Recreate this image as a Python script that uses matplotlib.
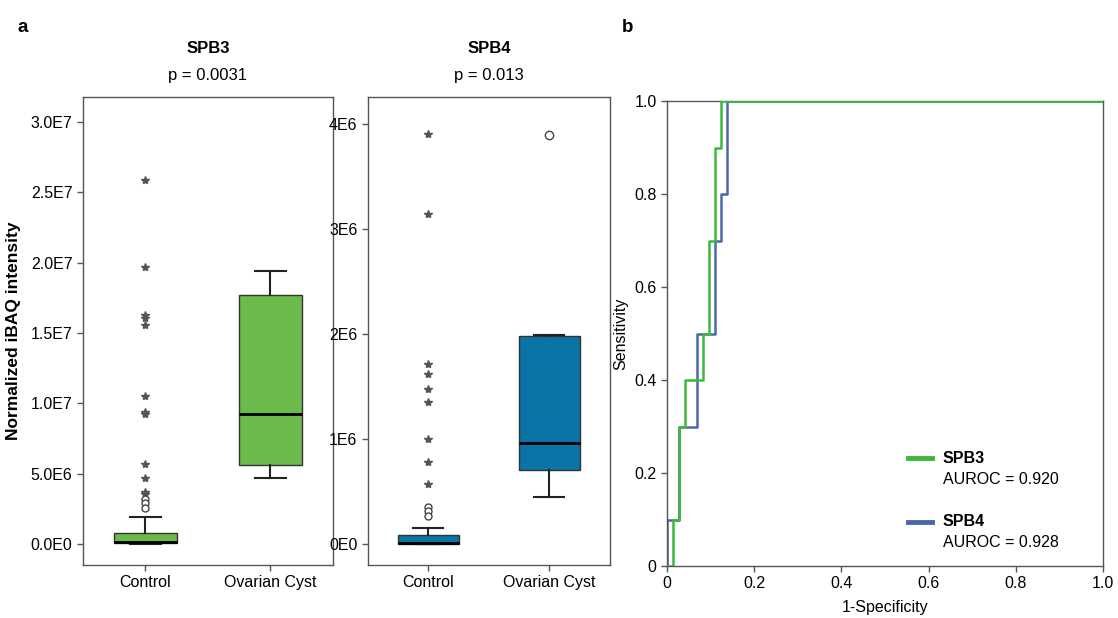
import matplotlib.pyplot as plt
from matplotlib.lines import Line2D

plt.rcParams["font.family"] = ["Liberation Sans", "DejaVu Sans"]

GROUPS = ["Control", "Ovarian Cyst"]

# box statistics (whislo, q1, med, q3, whishi)
SPB3_BOX = [
    [0.0, 0.05e6, 0.17e6, 0.80e6, 1.94e6],
    [4.69e6, 5.59e6, 9.28e6, 17.7e6, 19.4e6],
]
SPB3_STARS = [25.9e6, 19.7e6, 16.3e6, 16.1e6, 15.6e6, 10.5e6, 9.4e6, 9.25e6,
              5.66e6, 4.69e6, 3.72e6, 3.58e6]
SPB3_CIRCLES = [3.2e6, 2.9e6, 2.55e6]

SPB4_BOX = [
    [0.0, 0.0, 0.005e6, 0.09e6, 0.15e6],
    [0.45e6, 0.705e6, 0.96e6, 1.98e6, 1.99e6],
]
SPB4_STARS = [3.91e6, 3.14e6, 1.71e6, 1.62e6, 1.48e6, 1.35e6, 1.0e6, 0.78e6, 0.57e6]
SPB4_CIRCLES = [0.35e6, 0.31e6, 0.27e6]
SPB4_CYST_CIRCLES = [3.9e6]

# ROC steps
SPB3_FPR = [0.0, 0.014, 0.027, 0.041, 0.082, 0.096, 0.110, 0.123, 1.0]
SPB3_TPR = [0.0, 0.1, 0.3, 0.4, 0.5, 0.7, 0.9, 1.0, 1.0]
SPB4_FPR = [0.0, 0.0, 0.027, 0.068, 0.110, 0.123, 0.137, 1.0]
SPB4_TPR = [0.0, 0.1, 0.3, 0.5, 0.7, 0.8, 1.0, 1.0]
AUROC = {"SPB3": 0.920, "SPB4": 0.928}

GREEN_BOX = "#6cba4a"
BLUE_BOX = "#0a74a6"
GREEN_LINE = "#3cb83c"
BLUE_LINE = "#4a68a8"
FRAME = "#555555"
FS = 11.5


def style_frame(ax):
    for s in ax.spines.values():
        s.set_color(FRAME)
        s.set_linewidth(1.0)
    ax.tick_params(direction="out", length=4, width=1, color=FRAME, labelsize=FS)


def box_panel(ax, box, stars, circles, color, ylim, yticks, ylabels, extra=None):
    stats = []
    for lo, q1, med, q3, hi in box:
        stats.append({"whislo": lo, "q1": q1, "med": med, "q3": q3, "whishi": hi, "fliers": []})
    ax.bxp(
        stats,
        positions=[1, 2],
        widths=0.5,
        patch_artist=True,
        showfliers=False,
        boxprops={"facecolor": color, "edgecolor": "#333333", "linewidth": 1.0},
        medianprops={"color": "black", "linewidth": 2.0},
        whiskerprops={"color": "#222222", "linewidth": 1.5},
        capprops={"color": "#222222", "linewidth": 1.5},
        capwidths=0.25,
    )
    ax.plot([1] * len(stars), stars, ls="none", marker="*", ms=6,
            color="#555555", mec="#555555")
    ax.plot([1] * len(circles), circles, ls="none", marker="o", ms=5,
            mfc="white", mec="#444444", mew=1.0)
    if extra:
        ax.plot([2] * len(extra), extra, ls="none", marker="o", ms=6,
                mfc="white", mec="#444444", mew=1.0)
    ax.set_xlim(0.5, 2.5)
    ax.set_ylim(*ylim)
    ax.set_xticks([1, 2])
    ax.set_xticklabels(GROUPS)
    ax.set_yticks(yticks)
    ax.set_yticklabels(ylabels)
    style_frame(ax)


def titles(ax, name, pval):
    ax.text(0.5, 1.103, name, transform=ax.transAxes, ha="center", va="center",
            fontsize=FS + 0.5, fontweight="bold")
    ax.text(0.5, 1.047, pval, transform=ax.transAxes, ha="center", va="center",
            fontsize=FS + 0.5)


fig = plt.figure(figsize=(11.18, 6.18), dpi=100)

ax1 = fig.add_axes([0.0742, 0.0858, 0.2236, 0.757])
box_panel(ax1, SPB3_BOX, SPB3_STARS, SPB3_CIRCLES, GREEN_BOX,
          (-1.49e6, 3.178e7),
          [0, 5e6, 1e7, 1.5e7, 2e7, 2.5e7, 3e7],
          ["0.0E0", "5.0E6", "1.0E7", "1.5E7", "2.0E7", "2.5E7", "3.0E7"])
ax1.set_ylabel("Normalized iBAQ intensity", fontsize=FS + 1, fontweight="bold", labelpad=7)
titles(ax1, "SPB3", "p = 0.0031")

ax2 = fig.add_axes([0.329, 0.0858, 0.2165, 0.757])
box_panel(ax2, SPB4_BOX, SPB4_STARS, SPB4_CIRCLES, BLUE_BOX,
          (-0.2e6, 4.257e6),
          [0, 1e6, 2e6, 3e6, 4e6],
          ["0E0", "1E6", "2E6", "3E6", "4E6"],
          extra=SPB4_CYST_CIRCLES)
titles(ax2, "SPB4", "p = 0.013")

ax3 = fig.add_axes([0.5966, 0.0841, 0.39, 0.752])
ax3.step(SPB3_FPR, SPB3_TPR, where="post", color=GREEN_LINE, lw=1.8, zorder=3)
ax3.step(SPB4_FPR, SPB4_TPR, where="post", color=BLUE_LINE, lw=1.8, zorder=2)
ax3.set_xlim(0, 1)
ax3.set_ylim(0, 1)
ticks = [0, 0.2, 0.4, 0.6, 0.8, 1.0]
labs = ["0", "0.2", "0.4", "0.6", "0.8", "1.0"]
ax3.set_xticks(ticks)
ax3.set_xticklabels(labs)
ax3.set_yticks(ticks)
ax3.set_yticklabels(labs)
style_frame(ax3)
ax3.set_xlabel("1-Specificity", fontsize=FS, labelpad=6)
ax3.set_ylabel("Sensitivity", fontsize=FS, labelpad=4)

# legend drawn by hand, as in the figure
for (name, color, y0) in [("SPB3", GREEN_LINE, 0.232), ("SPB4", BLUE_LINE, 0.095)]:
    ax3.add_line(Line2D([0.552, 0.608], [y0, y0], color=color, lw=3.5,
                        transform=ax3.transAxes, clip_on=False))
    ax3.text(0.632, y0, name, transform=ax3.transAxes, va="center",
             fontsize=FS, fontweight="bold")
    ax3.text(0.632, y0 - 0.045, f"AUROC = {AUROC[name]:.3f}", transform=ax3.transAxes,
             va="center", fontsize=FS)

fig.text(0.016, 0.955, "a", fontsize=FS + 2, fontweight="bold", va="center")
fig.text(0.556, 0.955, "b", fontsize=FS + 2, fontweight="bold", va="center")

fig.savefig("out.png", dpi=100)
